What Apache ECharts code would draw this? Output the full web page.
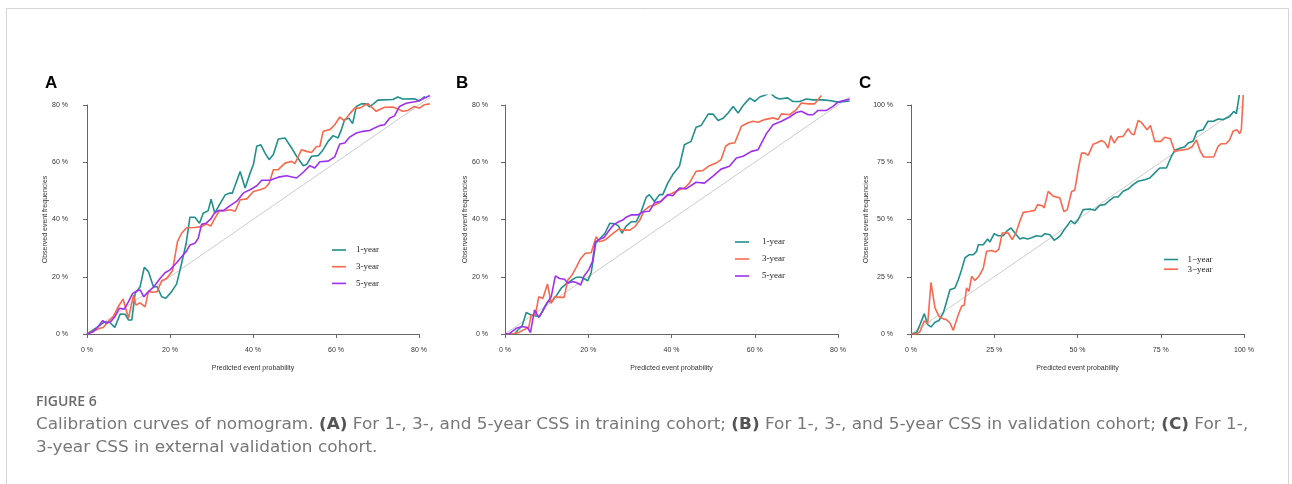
<!DOCTYPE html>
<html><head><meta charset="utf-8">
<script src="https://cdn.jsdelivr.net/npm/echarts/dist/echarts.min.js"></script>
<style>html,body{margin:0;padding:0;background:#fff}#c{width:1292px;height:484px}</style>
</head><body><div id="c"></div>
<script>
// ---------------- data (x = predicted %, y = observed %) ----------------
const panelLetters = ['A', 'B', 'C'];
const legendAB = ['1-year', '3-year', '5-year'];
const legendC = ['1\u2212year', '3\u2212year'];
const ticksAB = [0, 20, 40, 60, 80];
const ticksC = [0, 25, 50, 75, 100];
const idealAB = [[0, 0], [83, 83]];
const idealC = [[0, 0], [100, 100]];

const A_1yr = [[0,0],[2.7,2.6],[4.3,4.3],[5.5,4],[6.7,2.3],[8,7],[9.2,6.9],[10,4.9],[10.8,4.9],[11.6,14.2],[12.8,16.5],[13.8,23.3],[14.8,21.8],[16,16.5],[16.9,16.5],[18,13],[19,12.5],[20.4,14.8],[21.6,17.5],[22.8,24.7],[23.9,31.7],[24.8,40.8],[26,40.8],[27.1,38.7],[28,42.2],[29.2,43.1],[29.9,47.1],[30.8,42.2],[32,45.4],[33.3,48.6],[34.3,49.2],[35,49.2],[36.9,56.8],[38.1,51],[39.3,56.2],[40.1,59.2],[40.9,65.6],[41.9,66.1],[42.9,63.2],[43.9,60.9],[44.9,62.7],[46.1,68.1],[47.7,68.5],[49.3,65],[50.5,62.1],[52.1,58.8],[52.9,59.2],[54.1,62.1],[55.7,62.3],[56.9,64.4],[58.1,67.3],[59.3,69.3],[60.5,68.5],[61.3,71.4],[62.1,74.9],[63.1,75.4],[64,73.5],[64.9,79.5],[66.1,80.4],[67.3,80.4],[68.1,79.3],[70.1,81.7],[73.7,81.9],[74.9,82.8],[76.1,82.1],[78.9,82.2],[80.1,81.3],[81.4,83]];
const A_3yr = [[0,0],[1.9,1.2],[3.1,2],[3.9,2.3],[5.1,4.3],[6.3,6],[7.5,9.5],[8.7,12.2],[10,5.5],[11.2,13.6],[11.8,10.1],[12.8,10.9],[14,9.5],[14.8,14.8],[16,14.6],[16.9,14.8],[18,18.6],[19.2,19.4],[20.6,22.1],[21.8,32.3],[22.8,35.2],[24,37.1],[26,37.2],[27.6,37.5],[28.8,38.4],[29.8,37.7],[30.8,40.4],[31.9,43.1],[33.3,43.1],[34.5,43.4],[35.7,42.9],[36.9,46.9],[38.5,47.2],[40.1,49.8],[41.7,50.4],[42.9,51],[43.9,52.7],[44.9,57.4],[46.1,57.4],[47.7,59.7],[49.3,60.3],[50.1,59.5],[51.7,64.4],[52.9,63.8],[54.1,63.4],[55.3,65.5],[56.1,65.5],[56.9,70.8],[58.5,71.4],[59.7,73.1],[60.9,75.8],[62,74.5],[63.3,76.9],[64.5,78.9],[65.7,78.9],[67.7,80.5],[69.7,77.8],[71.7,79.2],[73.7,79.3],[74.9,78.6],[76.1,77.8],[77.3,78.1],[78.9,79.5],[80.1,78.9],[81.3,80.1],[82.6,80.4]];
const A_5yr = [[0,0],[1.5,0.8],[2.7,2.6],[3.8,4.7],[4.6,3.8],[5.7,4.3],[6.7,6],[7.8,9],[9,8.7],[10,11.3],[11,14.2],[12.1,15.1],[12.8,15.4],[13.7,13],[14.8,14.8],[16.1,16.5],[17.6,19.4],[18.8,21.4],[20,22.4],[21.6,24.9],[22.8,27],[23.9,28.8],[24.8,31.1],[26,31.7],[26.8,33.4],[27.6,38.3],[28.7,38.7],[29.8,40.1],[30.7,42.2],[31.6,43.1],[32.9,43.1],[34.3,44.7],[36.1,46.4],[37.7,49.3],[39.3,50.4],[40.9,51.8],[42.1,53.7],[44.1,53.7],[46.1,54.8],[48.1,55.3],[50.5,54.5],[52.1,56.5],[53.7,58.8],[54.9,58],[56.1,60.2],[58.1,60.4],[59.7,61.9],[60.9,66.4],[62.1,66.7],[63.3,68.8],[64.9,70.2],[66.5,70.8],[68.1,71.1],[69.3,72],[70.5,72.8],[71.7,73.1],[72.9,75.4],[74.1,76.2],[75.3,79.5],[76.9,80.6],[79.3,81.2],[80.9,82.1],[82.6,83.3]];

const B_1yr = [[0,0],[2.3,0],[3.1,1.4],[4.1,2.8],[5.1,7.5],[6.3,6.6],[7.5,6.3],[8.3,6.1],[9.5,9.5],[10.3,11.3],[11.1,11.3],[12.3,13.3],[13.5,16],[14.7,17.5],[16.1,18.9],[17.1,19.8],[18.3,19.8],[19.9,18.6],[20.7,21.4],[21.8,31.7],[22.7,33.1],[24,35.2],[25.2,38.7],[26.4,38.5],[27.3,37.7],[28.1,35.2],[29.1,37.7],[30.3,39.2],[31.5,39.2],[32.7,42.7],[33.9,47.7],[34.7,48.7],[35.9,46.3],[37.1,48.7],[37.9,48.7],[39.1,52.7],[40.3,55.7],[41.9,58.6],[43.1,66.1],[44.7,67.3],[45.9,72.2],[47.1,72.8],[48.8,76.8],[50,76.8],[51.2,74.6],[52.4,75.4],[53.6,77.2],[54.8,79.5],[56,77.2],[57.2,79.8],[58.8,82.4],[60,81.3],[61.2,82.8],[62.4,83.4],[63.6,84.3],[65,82.6],[65.9,82.1],[67.9,82.5],[69.2,81.2],[70.8,81.2],[72.4,82.1],[74,81.8],[76.4,81.8],[78.3,81.5],[80,81],[82.8,81.4]];
const B_3yr = [[0,0],[2.3,0.2],[3.3,0.5],[4.7,1.6],[5.7,2.3],[6.3,6.6],[7.3,6.6],[8.1,13],[9.1,12.4],[10.2,17.5],[11.1,10.7],[11.9,13],[13.1,12.8],[14.2,12.8],[15.1,18.9],[16.1,20.6],[17.1,23.3],[18.2,26.4],[19.3,28.2],[20.7,28.4],[21.9,34],[22.7,32.2],[24,32.8],[25,34],[26.2,35.4],[27.3,36.6],[28.3,36.3],[30,36.3],[31.2,37.5],[32.4,39.8],[33.4,43.1],[34.7,44.6],[35.9,45],[37.1,45.8],[38.7,48.1],[40.3,49.3],[41.9,50.4],[43.1,51],[44.3,52.7],[45.9,56.8],[47.5,57.1],[49.1,58.8],[50.7,59.7],[51.9,60.9],[53,65.6],[53.9,66.5],[55.2,66.8],[56.8,72.6],[58.4,73.8],[59.6,74.3],[60.8,74],[62.4,74.9],[64.4,75.5],[65.6,74.9],[66.4,76.9],[68.4,76.6],[70,78.4],[71.2,80.7],[72.8,80.4],[74.4,80.4],[76,83.3]];
const B_5yr = [[0,0],[1.1,0.2],[2.7,2],[4.1,2.6],[5.4,2.3],[6.1,0.5],[7.1,8.4],[8.1,5.8],[9.1,8.1],[10.3,11.3],[11.1,13],[12.1,20.3],[13.1,19.4],[14.3,19.1],[15.1,17.7],[16.3,18.3],[17.1,18],[18.2,17.1],[19,20.3],[20.1,22.4],[21,25.3],[21.7,32.2],[22.7,33.1],[23.8,33.7],[25.2,36.6],[26.2,38.3],[27.3,39.2],[28.3,39.8],[29.1,40.8],[30.3,41.6],[31.9,41.6],[33.2,42.7],[34.7,42.9],[35.9,45.8],[37.5,46.4],[39.1,48.7],[40.3,48.3],[41.9,51],[43.5,50.7],[45.9,53],[47.9,52.7],[49.9,55.1],[51.9,57.6],[53.9,58.6],[55.6,61.5],[57.2,62.1],[59.2,63.8],[60.8,64.4],[62.8,70],[64.4,73.1],[66.4,74.3],[68.4,75.8],[70,77.4],[71.2,77.8],[72.8,76.6],[74,76.6],[75.2,78.1],[77.2,78.1],[78.8,79.5],[80,81],[82.8,82.1]];

const C_1yr = [[0,0],[1.7,0.7],[2.7,4.1],[4,8.9],[5,4.1],[6,3.1],[7.2,5.1],[8.4,5.9],[9.7,9.2],[10.7,14.2],[11.7,19.3],[13.2,20.1],[14.2,23.7],[15.2,28.1],[16.2,33.2],[17.4,34.6],[18.7,34.6],[19.7,36.1],[20.2,39],[21.7,39],[23,41.5],[23.7,40.2],[25,43.8],[26.2,42.9],[27.7,42.9],[28.7,44.8],[30,46.3],[31.2,44.1],[32.7,41.5],[33.7,42],[35,41.5],[36.2,42],[37.7,42.9],[39.2,42.6],[40.2,43.8],[41.7,43.3],[43,40.9],[44.7,42.7],[46.2,45.9],[48,49.5],[49.2,48.1],[50.2,50],[51.7,54.3],[53.7,54.6],[55.2,54],[56.7,56.2],[58.2,56.5],[59.7,58.4],[60.9,59.8],[62.2,59.8],[63.7,62.3],[65.2,63.3],[66.7,65.2],[68.2,66.7],[70.2,67.4],[71.7,68.1],[72.7,69.6],[74.7,72.5],[76.7,72.5],[78.2,77.6],[79.2,80.2],[80.9,81.2],[82.2,81.7],[83.2,83.4],[84.7,84.2],[85.9,88.5],[87.7,89.2],[89.2,92.9],[90.9,92.9],[92.2,93.9],[93.7,93.6],[95.7,95],[96.9,97.2],[97.7,96.2],[99,108]];
const C_3yr = [[0,0],[1.7,0.1],[2.7,1.1],[4,5.8],[5,4.4],[6,22.5],[7.2,11.4],[8.4,7.7],[9.7,6.6],[10.7,6.2],[11.7,4.8],[12.7,1.6],[14.2,8.4],[15.2,12.1],[16,12.7],[16.7,20.1],[17.4,18.6],[18.2,25.2],[19.2,23.4],[20.4,25.2],[21.7,28.8],[22.7,36.1],[24.2,36.5],[25.4,35.8],[26.4,37.1],[27.4,44.1],[29.2,44.1],[30.4,41.2],[31.5,44.1],[32.5,48.5],[33.7,53.1],[35.4,53.5],[37.2,54],[38,56.5],[39.4,56],[40,55.1],[41.2,62.3],[42.7,60.2],[44.7,59.4],[45.9,53.5],[46.9,54.2],[48.2,62.1],[49.2,62.9],[50.2,71.7],[51.2,79],[52.2,79],[53.2,78],[54.7,82.9],[55.7,83.4],[57.2,84.5],[58.2,83.7],[59.2,81.2],[60,86.6],[61,83.4],[62.2,86],[63.7,86.3],[65.2,89.6],[66.2,87.5],[67,87],[68.2,93.2],[69.2,92.4],[70.9,89.2],[71.9,91.1],[73.2,84.1],[75,84.1],[76.2,85.9],[77.9,85.3],[79.2,79.7],[80.7,80.2],[83.2,80.8],[84.5,81.9],[85.7,84.8],[86.9,79.7],[87.9,77.3],[90.9,77.3],[92.2,81.9],[93.2,83.1],[94.5,83.1],[95.7,84.8],[96.7,88.5],[97.9,89.2],[98.7,87.5],[99.2,89.2],[99.9,108]];

const captionLine1 = '{n|Calibration curves of nomogram. }{b|(A)}{n| For 1-, 3-, and 5-year CSS in training cohort; }{b|(B)}{n| For 1-, 3-, and 5-year CSS in validation cohort; }{b|(C)}{n| For 1-,}';
const captionLine2 = '{n|3-year CSS in external validation cohort.}';

// ---------------- styling / layout ----------------
const COL_TEAL = '#21908c', COL_RED = '#f8694e', COL_PURPLE = '#a030f0', COL_IDEAL = '#cccccc';
const SANS = 'Liberation Sans, Arial, sans-serif';
const SERIF = 'Liberation Serif, Times New Roman, serif';

const frames = [
  {left: 87,  top: 105, w: 332, h: 229, max: 80,  xMax: 84,  yMax: 84,   yOff: 15, ticks: ticksAB,
   leg: {left: 332, top: 245, gap: 6.7, pad: 5, names: legendAB, lh: 10}},
  {left: 505, top: 105, w: 333, h: 229, max: 80,  xMax: 84,  yMax: 83.4, yOff: 13, ticks: ticksAB,
   leg: {left: 735, top: 237, gap: 7, pad: 8, names: legendAB, lh: 10}},
  {left: 911, top: 105, w: 333, h: 229, max: 100, xMax: 104, yMax: 104,  yOff: 14, ticks: ticksC,
   leg: {left: 1164, top: 255, gap: 0.7, pad: 4.5, names: legendC, lh: 8}}
];
const panelSeries = [
  {ideal: idealAB, lines: [[legendAB[0], A_1yr, COL_TEAL], [legendAB[1], A_3yr, COL_RED], [legendAB[2], A_5yr, COL_PURPLE]]},
  {ideal: idealAB, lines: [[legendAB[0], B_1yr, COL_TEAL], [legendAB[1], B_3yr, COL_RED], [legendAB[2], B_5yr, COL_PURPLE]]},
  {ideal: idealC,  lines: [[legendC[0], C_1yr, COL_TEAL], [legendC[1], C_3yr, COL_RED]]}
];
const letterLeft = [45, 456, 859];

const grid = [], xAxis = [], yAxis = [], series = [], legend = [], title = [];
frames.forEach((f, i) => {
  const ppx = f.w / f.max, ppy = f.h / f.max;
  grid.push({left: f.left, top: f.top, width: f.w, height: f.h});
  grid.push({left: f.left, top: f.top + f.h - f.yMax * ppy, width: f.xMax * ppx, height: f.yMax * ppy});
  const axisCommon = {
    type: 'value', min: 0, max: f.max, interval: f.ticks[1] - f.ticks[0],
    splitLine: {show: false},
    axisLine: {show: true, lineStyle: {color: '#666', width: 1}},
    axisTick: {show: true, length: 4, lineStyle: {color: '#666'}},
    axisLabel: {formatter: '{value} %', fontSize: 7, fontFamily: SANS, color: '#333', margin: 4},
    nameLocation: 'middle', nameTextStyle: {fontSize: 7, fontFamily: SANS, color: '#333'}
  };
  xAxis.push(Object.assign({}, axisCommon, {gridIndex: 2 * i, offset: 9, name: 'Predicted event probability', nameGap: 22}));
  yAxis.push(Object.assign({}, axisCommon, {gridIndex: 2 * i, offset: f.yOff, name: 'Observed event frequencies', nameGap: 21, nameRotate: 90}));
  xAxis.push({type: 'value', gridIndex: 2 * i + 1, min: 0, max: f.xMax, show: false, splitLine: {show: false}});
  yAxis.push({type: 'value', gridIndex: 2 * i + 1, min: 0, max: f.yMax, show: false, splitLine: {show: false}});
  const ps = panelSeries[i];
  series.push({type: 'line', name: 'ideal' + i, xAxisIndex: 2 * i + 1, yAxisIndex: 2 * i + 1, data: ps.ideal,
    symbol: 'none', silent: true, z: 1, lineStyle: {color: COL_IDEAL, width: 1}});
  ps.lines.forEach(([name, d, c], k) => {
    series.push({type: 'line', name: name, xAxisIndex: 2 * i + 1, yAxisIndex: 2 * i + 1, data: d,
      symbol: 'none', showSymbol: false, clip: true, z: 2 + k, color: c, lineStyle: {color: c, width: 1.6}});
  });
  legend.push({orient: 'vertical', left: f.leg.left, top: f.leg.top, data: f.leg.names, selectedMode: false,
    icon: 'rect', itemWidth: 14, itemHeight: 1.6, itemGap: f.leg.gap, padding: 0,
    textStyle: {fontFamily: SERIF, fontSize: 9, color: '#222', lineHeight: f.leg.lh, padding: [0, 0, 0, f.leg.pad]}});
  title.push({text: panelLetters[i], left: letterLeft[i], top: 75, padding: 0,
    textStyle: {fontFamily: SANS, fontSize: 17, fontWeight: 'bold', color: '#000'}});
});

title.push({text: 'FIGURE 6', left: 36, top: 395, padding: 0,
  textStyle: {fontFamily: 'Open Sans, sans-serif', fontSize: 14, fontWeight: 600, color: '#6a6a6a'}});

const CAP = 'DejaVu Sans, Open Sans, sans-serif';
const rich = {
  n: {fontFamily: CAP, fontSize: 16, fontWeight: 'normal', fill: '#777777', lineHeight: 20},
  b: {fontFamily: CAP, fontSize: 16, fontWeight: 'bold', fill: '#555555', lineHeight: 20}
};
const capScale = 1.054;

const chart = echarts.init(document.getElementById('c'), null, {renderer: 'canvas'});
chart.setOption({
  backgroundColor: '#fff', animation: false,
  title: title, grid: grid, xAxis: xAxis, yAxis: yAxis, series: series, legend: legend,
  graphic: [
    {type: 'rect', shape: {x: 6.5, y: 8.5, width: 1282, height: 520}, style: {fill: 'none', stroke: '#d4d4d4', lineWidth: 1}, silent: true},
    {type: 'text', x: 36, y: 415, scaleX: capScale, silent: true,
      style: {text: captionLine1, rich: rich, fill: '#777', font: '16px ' + CAP, verticalAlign: 'top'}},
    {type: 'text', x: 36, y: 438, scaleX: capScale, silent: true,
      style: {text: captionLine2, rich: rich, fill: '#777', font: '16px ' + CAP, verticalAlign: 'top'}}
  ]
});
</script></body></html>
